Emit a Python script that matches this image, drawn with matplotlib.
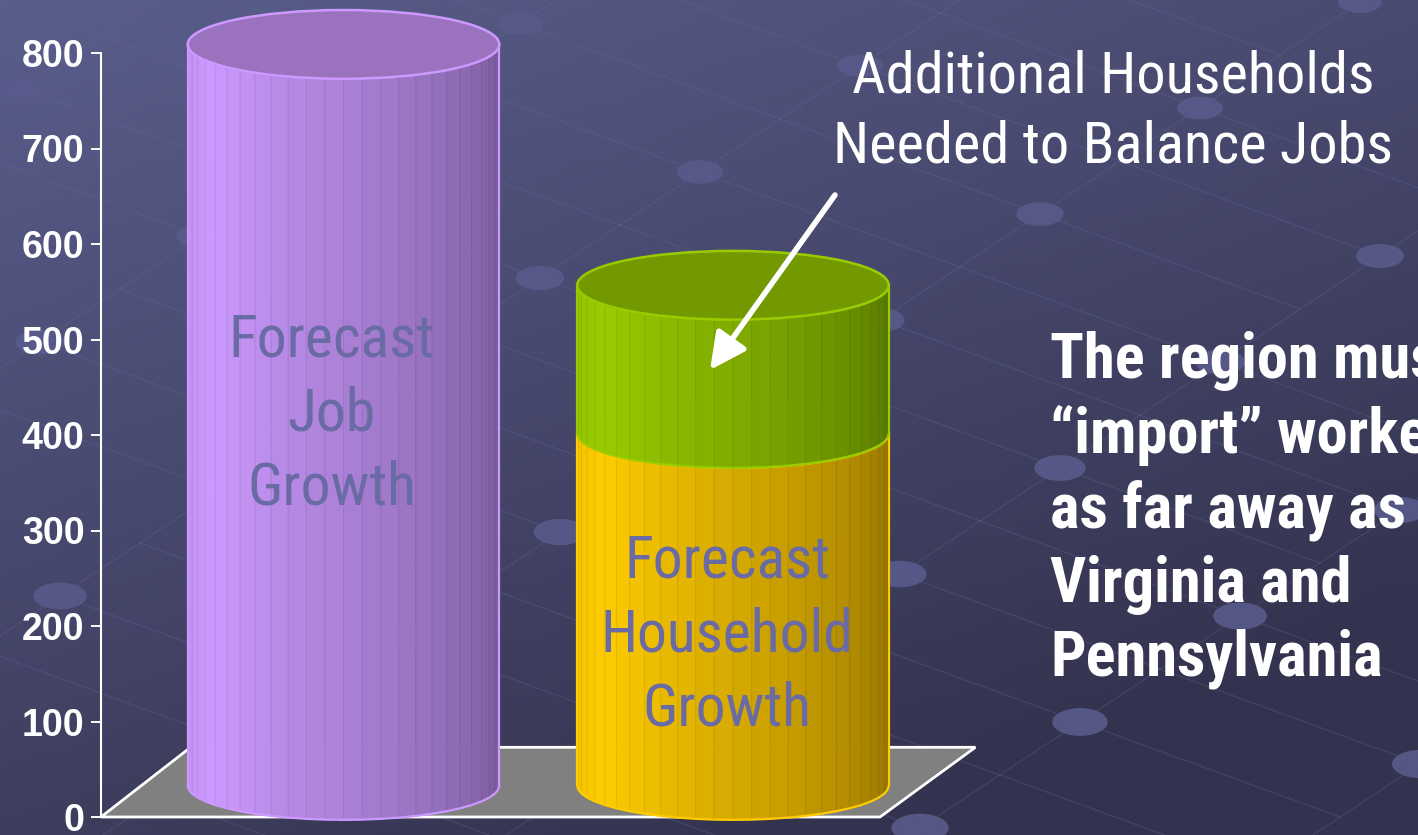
import numpy as np
import matplotlib
matplotlib.use("Agg")
import matplotlib.pyplot as plt
from matplotlib.patches import Polygon, Ellipse
from matplotlib.colors import to_rgb
import logging

logging.getLogger("matplotlib.font_manager").setLevel(logging.ERROR)

# --- data ---
categories = ["Forecast\nJob\nGrowth", "Forecast\nHousehold\nGrowth"]
job_growth = [800, 0]
household_growth = [0, 380]
additional_households = [0, 160]
y_ticks = [0, 100, 200, 300, 400, 500, 600, 700, 800]

NARROW = ["Arial Narrow", "Liberation Sans Narrow", "Roboto Condensed",
          "Open Sans Condensed", "IBM Plex Sans Condensed", "Liberation Sans"]
W, H = 1418, 835

# pixel geometry of the original slide chart
PX_PER_UNIT = 0.955          # axis units -> pixels vertically
PX_PER_CAT = 389.5           # category spacing in pixels
X0_PX, Y0_PX = 343.5, 817    # first category centre, value 0
AXIS_PX = 101

# 3-D look: cylinder centre sits back in depth and slightly compressed
BASE = 33.0
SHRINK = 0.97
HALF_W = 0.40
ELL_H = 36.0
DEPTH_DX, DEPTH_DY = 0.235, 73.0


def proj(v):
    return BASE + SHRINK * v


def px_x(p):
    return (p - X0_PX) / PX_PER_CAT


def px_y(p):
    return (Y0_PX - p) / PX_PER_UNIT


def shade(c_light, c_dark, t):
    a, b = np.array(to_rgb(c_light)), np.array(to_rgb(c_dark))
    # lightest a little in from the left edge
    if t < 0.18:
        k = 0.12 * (1 - t / 0.18)
    else:
        k = (t - 0.18) / 0.82
    return tuple(a + (b - a) * k)


def cylinder(ax, xc, v0, v1, light, dark, top, edge, n=26, zorder=3):
    yb, yt = proj(v0), proj(v1)
    th = np.linspace(np.pi, 2 * np.pi, n + 1)
    xs = xc + HALF_W * np.cos(th)
    sb = yb + ELL_H * np.sin(th)
    st = yt + ELL_H * np.sin(th)
    for k in range(n):
        col = shade(light, dark, k / (n - 1))
        poly = Polygon([(xs[k], sb[k]), (xs[k + 1], sb[k + 1]),
                        (xs[k + 1], st[k + 1]), (xs[k], st[k])],
                       closed=True, facecolor=col,
                       edgecolor=tuple(np.array(col) * 0.93),
                       lw=0.6, zorder=zorder)
        ax.add_patch(poly)
    # outline of the body
    ax.plot(xs, sb, color=edge, lw=1.6, zorder=zorder + 0.1)
    ax.plot([xs[0], xs[0]], [sb[0], st[0]], color=edge, lw=1.6,
            zorder=zorder + 0.1)
    ax.plot([xs[-1], xs[-1]], [sb[-1], st[-1]], color=edge, lw=1.6,
            zorder=zorder + 0.1)
    ax.add_patch(Ellipse((xc, yt), 2 * HALF_W, 2 * ELL_H, facecolor=top,
                         edgecolor=edge, lw=1.8, zorder=zorder + 0.2))


fig = plt.figure(figsize=(W / 100, H / 100), dpi=100)

# background: gradient plus faint lattice of dots
bg = fig.add_axes([0, 0, 1, 1])
bg.set_xlim(0, W)
bg.set_ylim(H, 0)
bg.axis("off")
gx, gy = np.meshgrid(np.linspace(0, 1, 200), np.linspace(0, 1, 120))
t = np.clip(0.45 * gx + 0.75 * gy, 0, 1)
c_top, c_bot = np.array(to_rgb("#5a5e8c")), np.array(to_rgb("#34334f"))
grad = c_top[None, None, :] * (1 - t[..., None]) + c_bot[None, None, :] * t[..., None]
bg.imshow(grad, extent=[0, W, H, 0], aspect="auto", zorder=0)

u = np.array([80.0, -53.0])
v = np.array([260.0, 95.0])
origin = np.array([-300.0, 300.0])
pts = {}
for i in range(-12, 22):
    for j in range(-6, 10):
        p = origin + i * u + j * v
        if -100 < p[0] < W + 100 and -100 < p[1] < H + 100:
            pts[(i, j)] = p
for (i, j), p in pts.items():
    for d in [(1, 0), (0, 1)]:
        q = pts.get((i + d[0], j + d[1]))
        if q is not None:
            bg.plot([p[0], q[0]], [p[1], q[1]], color="#6a6d9c", lw=0.8,
                    alpha=0.3, zorder=1)
for (i, j), p in pts.items():
    if (i + j) % 2:
        continue
    size = 1.0 + 0.3 * (p[1] / H)
    bg.add_patch(Ellipse(p, 44 * size, 22 * size, facecolor="#585b8b",
                         edgecolor="none", alpha=0.9, zorder=2))

# chart axes in value units
ax = fig.add_axes([0, 0, 1, 1])
ax.patch.set_alpha(0)
ax.set_xlim(px_x(0), px_x(W))
ax.set_ylim(px_y(H), px_y(0))
axis_x = px_x(AXIS_PX)

for s in ["top", "right", "bottom"]:
    ax.spines[s].set_visible(False)
ax.spines["left"].set_position(("data", axis_x))
ax.spines["left"].set_bounds(y_ticks[0], y_ticks[-1])
ax.spines["left"].set_color("white")
ax.spines["left"].set_linewidth(1.5)
ax.set_xticks([])
ax.set_yticks(y_ticks)
ax.tick_params(axis="y", colors="white", length=7, width=1.4, pad=5)
for lab in ax.get_yticklabels():
    lab.set_fontfamily(["Liberation Sans", "DejaVu Sans"])
    lab.set_fontweight("bold")
    lab.set_fontsize(27)

# floor
right_x = px_x(880)
floor = Polygon([(axis_x, 0), (right_x, 0),
                 (right_x + DEPTH_DX + 0.01, DEPTH_DY),
                 (axis_x + DEPTH_DX - 0.005, DEPTH_DY)],
                closed=True, facecolor="#808080", edgecolor="white",
                lw=2, zorder=2)
ax.add_patch(floor)

# cylinders
cylinder(ax, 0, 0, job_growth[0], "#cc99ff", "#765a98", "#9b72bd", "#cc99ff")
cylinder(ax, 1, 0, household_growth[1], "#ffcc00", "#957400",
         "#d9a800", "#ffcc00", zorder=3)
cylinder(ax, 1, household_growth[1],
         household_growth[1] + additional_households[1],
         "#99cc00", "#567800", "#739900", "#99cc00", zorder=4)

# labels on the cylinders
label_y = [proj(job_growth[0]) * 0.522, proj(household_growth[1]) * 0.475]
label_dx = [-0.03, -0.015]
for k, txt in enumerate(categories):
    ax.text(k + label_dx[k], label_y[k], txt, ha="center", va="center",
            color="#6a6aa4", fontsize=43, family=NARROW,
            linespacing=1.38, zorder=6)

# annotation with arrow
ax.text(px_x(1113), px_y(112),
        "Additional Households\nNeeded to Balance Jobs",
        ha="center", va="center", color="white", fontsize=42,
        family=NARROW, linespacing=1.36, zorder=6)
ax.annotate("", xy=(px_x(710), px_y(370)),
            xytext=(px_x(835), px_y(195)),
            arrowprops=dict(arrowstyle="-|>,head_length=2.2,head_width=1.1",
                            color="white", lw=4, shrinkA=0, shrinkB=0),
            zorder=7)

ax.text(px_x(1050), px_y(510),
        "The region must\n\u201cimport\u201d workers\nas far away as\n"
        "Virginia and\nPennsylvania",
        ha="left", va="center", color="white", fontsize=45,
        fontweight="bold", family=NARROW, linespacing=1.29, zorder=6)

fig.savefig("out.png", dpi=100)
